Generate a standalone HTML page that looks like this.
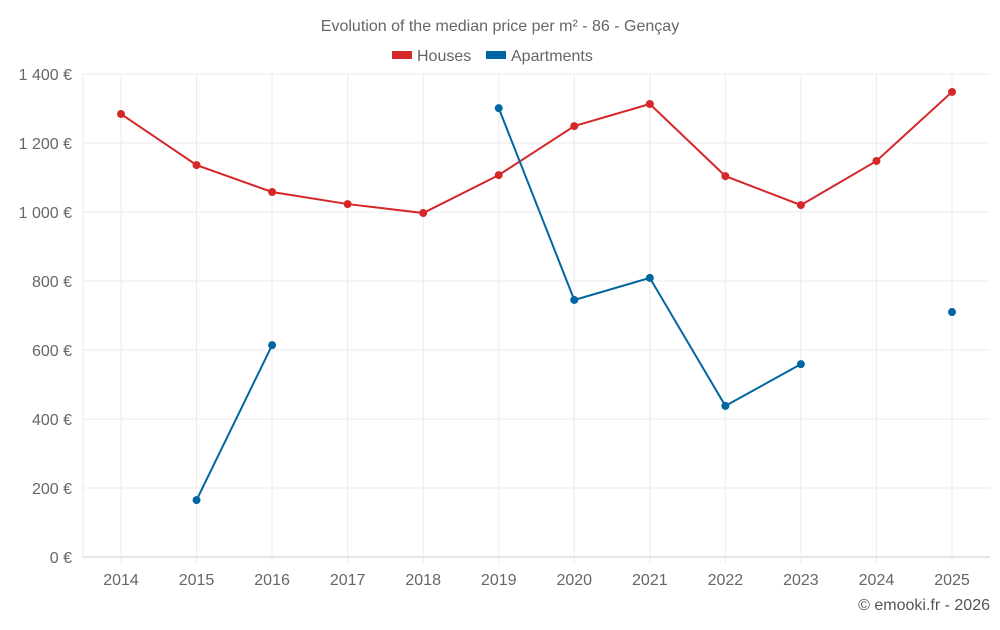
<!DOCTYPE html>
<html><head><meta charset="utf-8"><style>
body{margin:0;background:#fff;font-family:"Liberation Sans",sans-serif}
svg text{font-family:"Liberation Sans",sans-serif}
</style></head><body>
<svg id="chart" width="1000" height="625" xmlns="http://www.w3.org/2000/svg">
<text x="500" y="31" text-anchor="middle" font-size="16" fill="#666">Evolution of the median price per m² - 86 - Gençay</text>
<g>
<g><rect x="392" y="51" width="20" height="8" fill="#d62728"/><text x="417" y="61" font-size="16" fill="#666">Houses</text></g>
<g><rect x="486" y="51" width="20" height="8" fill="#0066a0"/><text x="511" y="61" font-size="16" fill="#666">Apartments</text></g>
</g>
<g id="grid"></g><g id="axes"></g><g id="series"></g>
<text x="990" y="610" text-anchor="end" font-size="16" fill="#555">© emooki.fr - 2026</text>
</svg>
<script>
const years=[2014,2015,2016,2017,2018,2019,2020,2021,2022,2023,2024,2025];
const houses=[1284,1136,1058,1023,997,1107,1249,1313,1104,1020,1148,1348];
const apartments=[null,165,614,null,null,1301,745,809,438,559,null,710];
const yTicks=[0,200,400,600,800,1000,1200,1400];
const yTickLabels=["0 €","200 €","400 €","600 €","800 €","1 000 €","1 200 €","1 400 €"];
const NS="http://www.w3.org/2000/svg";
const L=83,R=990,T=74,B=557;
const x=i=>121+i*(952-121)/(years.length-1);
const y=v=>B-(v/1400)*(B-T);
function mk(t,a,p){const e=document.createElementNS(NS,t);for(const k in a)e.setAttribute(k,a[k]);p.appendChild(e);return e;}
const grid=document.getElementById('grid'),axes=document.getElementById('axes'),ser=document.getElementById('series');
yTicks.forEach((v,i)=>{
 const g=mk('line',{x1:L,x2:R,y1:y(v),y2:y(v),stroke:i==0?'#ccc':'#ebebeb','stroke-width':1},grid);
 
 
 const t=mk('text',{x:72,y:y(v)+6,'text-anchor':'end','font-size':16,fill:'#666'},axes);
 t.textContent=yTickLabels[i];
 
 
});
mk('line',{x1:L,x2:L,y1:T,y2:B,stroke:'#ebebeb'},grid);
years.forEach((yr,i)=>{
 const g=mk('line',{x1:x(i),x2:x(i),y1:T,y2:B+6,stroke:'#ebebeb'},grid);
 
 
 const t=mk('text',{x:x(i),y:585,'text-anchor':'middle','font-size':16,fill:'#666'},axes);
 t.textContent=yr;
 
 
});
function draw(data,color,name){
 let segs=[],cur=[];
 data.forEach((v,i)=>{if(v==null){if(cur.length)segs.push(cur);cur=[];}else cur.push([x(i),y(v)]);});
 if(cur.length)segs.push(cur);
 segs.forEach(s=>{if(s.length>1){const p=mk('polyline',{points:s.map(q=>q.join(',')).join(' '),fill:'none',stroke:color,'stroke-width':2},ser);
  
  }});
 data.forEach((v,i)=>{if(v==null)return;const c=mk('circle',{cx:x(i),cy:y(v),r:4,fill:color},ser);
  
  });
}
draw(houses,'#d62728','houses');
draw(apartments,'#0066a0','apartments');
</script>
</body></html>
